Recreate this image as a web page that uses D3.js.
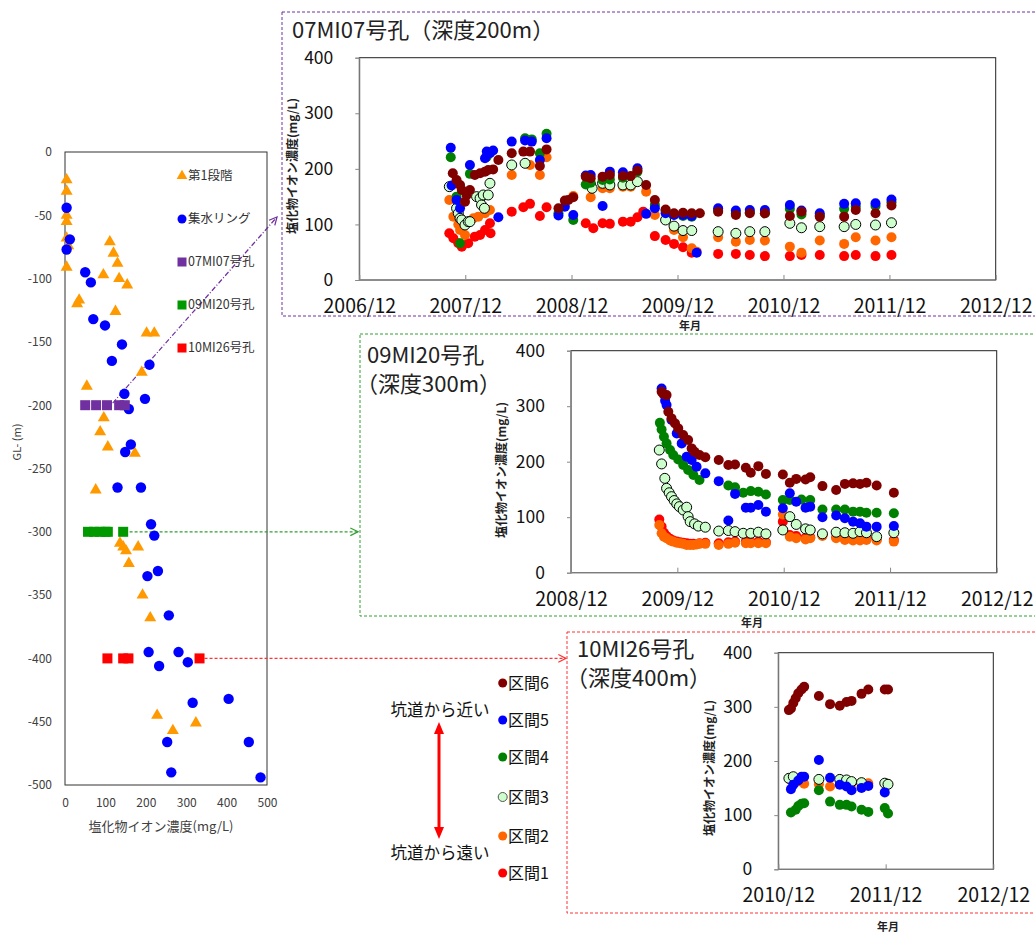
<!DOCTYPE html>
<html lang="ja">
<head>
<meta charset="utf-8">
<title>塩化物イオン濃度の経時変化</title>
<script src="https://cdnjs.cloudflare.com/ajax/libs/d3/7.8.5/d3.min.js"></script>
<style>
    body { margin: 0; background: #fff; }
    text { font-family: "Noto Sans CJK JP", sans-serif; }
</style>
</head>
<body>
<script>
    // ---- left chart: depth profile (value mg/L, depth m) ----
    var leftStage1 = [[4,-22],[4,-31],[4,-50],[4,-55],[4,-68],[8,-74],[4,-91],[111,-71],[120,-80],[130,-88],
        [134,-100],[95,-97],[154,-105],[35,-117],[30,-120],[125,-126],[202,-143],[221,-143],[190,-174],[54,-185],
        [96,-210],[87,-221],[106,-233],[173,-238],[76,-267],[136,-309],[144,-312],[151,-315],[181,-312],[158,-325],
        [192,-350],[211,-368],[228,-445],[324,-451],[267,-457]];
    var leftRing = [[4,-44],[12,-69],[4,-77],[50,-95],[64,-103],[70,-132],[99,-137],[141,-152],[116,-165],[209,-168],
        [147,-191],[198,-195],[158,-203],[163,-231],[149,-237],[130,-265],[188,-265],[213,-294],[221,-303],[204,-335],
        [230,-331],[257,-366],[207,-395],[281,-395],[304,-403],[233,-406],[316,-435],[405,-432],[253,-466],[455,-466],
        [263,-490],[484,-494]];
    var leftBore07 = [[50,-200],[77,-200],[104,-200],[134,-200],[148,-200]];
    var leftBore09 = [[57,-300],[72,-300],[86,-300],[100,-300],[106,-300],[144,-300]];
    var leftBore10 = [[105,-400],[144,-400],[157,-400],[333,-400]];
    var leftLegend = ["第1段階", "集水リング", "07MI07号孔", "09MI20号孔", "10MI26号孔"];

    // ---- 07MI07 (depth 200m) ----
    var mi07Ticks = ["2006/12","2007/12","2008/12","2009/12","2010/12","2011/12","2012/12"];
    var mi07_s1 = [["2007-10-07",84],["2007-10-21",75],["2007-11-07",66],["2007-11-19",60],["2007-12-11",66],["2008-01-03",78],
        ["2008-01-21",81],["2008-02-07",90],["2008-02-24",102],["2008-02-26",84],["2008-05-09",123],["2008-06-18",131],
        ["2008-07-11",137],["2008-08-14",115],["2008-09-06",131],["2009-01-19",102],["2009-02-14",93],["2009-03-18",102],
        ["2009-04-12",101],["2009-05-27",105],["2009-06-23",105],["2009-07-16",113],["2009-08-05",123],["2009-09-14",79],
        ["2009-10-21",72],["2009-11-19",65],["2009-12-20",59],["2010-01-19",49],["2010-04-20",47],["2010-06-20",47],
        ["2010-08-07",45],["2010-09-28",43],["2010-12-23",43],["2011-02-01",45],["2011-04-05",45],["2011-06-28",43],
        ["2011-08-07",45],["2011-10-14",43],["2011-12-08",45]];
    var mi07_s2 = [["2007-10-07",144],["2007-10-21",114],["2007-11-07",100],["2007-11-13",90],["2007-11-30",81],["2007-12-29",111],
        ["2008-01-15",114],["2008-02-07",120],["2008-02-24",126],["2008-05-09",189],["2008-07-11",207],["2008-08-14",189],
        ["2008-09-06",221],["2008-12-07",151],["2009-02-05",149],["2009-03-18",165],["2009-04-12",165],["2009-05-27",168],
        ["2009-06-23",168],["2009-08-15",159],["2009-09-14",117],["2009-11-19",90],["2009-12-20",77],["2010-01-19",57],
        ["2010-02-05",51],["2010-04-20",77],["2010-06-20",69],["2010-08-07",72],["2010-09-28",71],["2010-12-23",60],
        ["2011-02-01",49],["2011-04-05",71],["2011-06-28",65],["2011-08-07",77],["2011-10-14",71],["2011-12-08",77]];
    var mi07_s3 = [["2007-10-07",168],["2007-11-01",129],["2007-11-07",120],["2007-11-13",111],["2007-11-19",108],["2007-11-30",99],
        ["2007-12-11",105],["2007-12-17",105],["2008-01-09",150],["2008-01-21",147],["2008-01-26",135],["2008-02-01",153],
        ["2008-02-05",129],["2008-02-18",153],["2008-02-24",174],["2008-05-09",207],["2008-06-24",210],["2009-02-05",171],
        ["2009-02-10",165],["2009-03-18",174],["2009-04-12",171],["2009-05-27",171],["2009-06-23",171],["2009-07-16",177],
        ["2009-10-21",108],["2009-11-19",97],["2009-12-20",89],["2010-01-19",89],["2010-04-20",87],["2010-06-20",84],
        ["2010-08-07",87],["2010-09-28",87],["2010-12-23",102],["2011-02-01",94],["2011-04-05",96],["2011-06-28",96],
        ["2011-08-07",100],["2011-10-14",99],["2011-12-08",103]];
    var mi07_s4 = [["2007-10-12",221],["2007-11-01",150],["2007-11-13",66],["2007-12-17",191],["2008-02-13",222],["2008-06-24",255],
        ["2008-07-17",253],["2008-08-14",228],["2008-09-06",263],["2008-10-17",120],["2008-12-07",108],["2009-01-19",172],
        ["2009-02-05",175],["2009-03-18",180],["2009-04-12",181],["2009-05-27",184],["2009-07-16",195],["2009-09-14",135],
        ["2009-10-21",125],["2009-11-19",118],["2009-12-20",115],["2010-01-19",114],["2010-04-20",125],["2010-06-20",120],
        ["2010-08-07",122],["2010-09-28",120],["2010-12-23",128],["2011-02-01",118],["2011-04-05",116],["2011-06-28",128],
        ["2011-08-07",132],["2011-10-14",133],["2011-12-08",140]];
    var mi07_s5 = [["2007-10-12",238],["2007-10-15",170],["2007-11-01",144],["2007-11-13",129],["2007-12-17",207],["2008-02-07",219],
        ["2008-02-13",231],["2008-02-24",228],["2008-03-06",233],["2008-03-24",113],["2008-05-09",249],["2008-06-24",251],
        ["2008-07-17",249],["2008-08-14",216],["2008-09-06",255],["2008-10-17",116],["2008-11-08",132],["2008-12-07",117],
        ["2009-01-19",188],["2009-02-05",189],["2009-03-18",133],["2009-04-12",195],["2009-05-27",194],["2009-07-16",201],
        ["2009-08-15",119],["2009-09-14",129],["2009-10-21",120],["2009-11-19",117],["2009-12-20",117],["2010-01-19",115],
        ["2010-02-05",49],["2010-04-20",129],["2010-06-20",125],["2010-08-07",126],["2010-09-28",126],["2010-12-23",135],
        ["2011-02-01",125],["2011-04-05",120],["2011-06-28",137],["2011-08-07",138],["2011-10-14",138],["2011-12-08",145]];
    var mi07_s6 = [["2007-10-19",192],["2007-11-01",180],["2007-11-13",171],["2007-11-19",162],["2007-11-30",141],["2007-12-06",153],
        ["2007-12-17",162],["2008-01-03",189],["2008-01-21",192],["2008-02-07",195],["2008-02-18",198],["2008-03-06",199],
        ["2008-03-24",216],["2008-05-09",228],["2008-06-18",231],["2008-07-11",231],["2008-08-14",205],["2008-09-06",235],
        ["2008-10-17",129],["2008-11-08",143],["2008-11-20",144],["2008-12-07",149],["2009-01-19",186],["2009-02-05",183],
        ["2009-03-18",186],["2009-04-12",189],["2009-05-27",187],["2009-06-23",187],["2009-07-16",197],["2009-08-15",171],
        ["2009-09-14",144],["2009-10-21",127],["2009-11-19",120],["2009-12-20",121],["2010-01-19",120],["2010-02-16",120],
        ["2010-04-20",123],["2010-06-20",117],["2010-08-07",120],["2010-09-28",120],["2010-12-23",115],["2011-02-01",123],
        ["2011-04-05",114],["2011-06-28",114],["2011-08-07",126],["2011-10-14",120],["2011-12-08",134]];

    // ---- 09MI20 (depth 300m) ----
    var mi20Ticks = ["2008/12","2009/12","2010/12","2011/12","2012/12"];
    var mi20_s1 = [["2009-09-30",96],["2009-10-08",83],["2009-10-16",72],["2009-10-25",66],["2009-11-06",61],["2009-11-17",58],
        ["2009-11-29",56],["2009-12-10",55],["2009-12-21",54],["2010-01-02",53],["2010-01-14",52],["2010-01-25",52],
        ["2010-02-15",53],["2010-03-07",54],["2010-04-22",53],["2010-05-25",55],["2010-06-17",56],["2010-07-24",56],
        ["2010-08-10",55],["2010-09-05",56],["2010-10-01",55],["2010-11-28",92],["2010-12-22",68],["2011-01-13",66],
        ["2011-02-14",63],["2011-03-02",64],["2011-04-13",68],["2011-05-30",64],["2011-06-29",61],["2011-07-27",60],
        ["2011-08-20",60],["2011-09-11",61],["2011-10-16",60],["2011-12-14",59]];
    var mi20_s2 = [["2009-09-30",86],["2009-10-08",71],["2009-10-16",65],["2009-10-25",62],["2009-11-06",58],["2009-11-17",56],
        ["2009-11-29",54],["2009-12-10",53],["2009-12-21",52],["2010-01-02",50],["2010-01-14",50],["2010-01-25",50],
        ["2010-02-05",51],["2010-02-15",52],["2010-03-07",52],["2010-04-22",50],["2010-05-25",52],["2010-06-17",54],
        ["2010-07-24",53],["2010-08-10",53],["2010-09-05",53],["2010-10-01",53],["2010-11-28",105],["2010-12-22",65],
        ["2011-01-13",62],["2011-02-14",60],["2011-03-02",62],["2011-04-13",66],["2011-05-30",62],["2011-06-29",59],
        ["2011-07-27",58],["2011-08-20",58],["2011-09-11",59],["2011-10-16",58],["2011-12-14",56]];
    var mi20_s3 = [["2009-09-30",221],["2009-10-08",196],["2009-10-19",170],["2009-10-25",152],["2009-11-03",144],["2009-11-11",137],
        ["2009-11-20",130],["2009-11-29",124],["2009-12-08",119],["2009-12-21",113],["2010-01-02",118],["2010-01-07",101],
        ["2010-01-14",92],["2010-01-29",88],["2010-02-11",84],["2010-03-07",82],["2010-04-22",75],["2010-05-25",76],
        ["2010-06-17",74],["2010-07-15",71],["2010-08-10",71],["2010-09-05",73],["2010-10-01",70],["2010-11-28",77],
        ["2010-12-22",101],["2011-01-13",87],["2011-02-14",79],["2011-03-02",77],["2011-04-13",70],["2011-05-30",73],
        ["2011-06-29",72],["2011-07-27",71],["2011-08-20",74],["2011-09-11",72],["2011-10-16",65],["2011-12-14",72]];
    var mi20_s4 = [["2009-10-02",270],["2009-10-08",258],["2009-10-16",245],["2009-10-25",233],["2009-11-06",221],["2009-11-17",212],
        ["2009-12-04",204],["2009-12-21",194],["2010-01-07",185],["2010-01-25",176],["2010-02-15",167],["2010-05-25",157],
        ["2010-06-17",154],["2010-07-15",144],["2010-08-10",147],["2010-09-05",146],["2010-10-01",141],["2010-11-28",131],
        ["2010-12-22",131],["2011-01-31",132],["2011-03-02",131],["2011-04-13",114],["2011-05-30",114],["2011-06-29",114],
        ["2011-07-27",110],["2011-08-20",110],["2011-09-11",108],["2011-10-16",108],["2011-12-14",107]];
    var mi20_s5 = [["2009-10-08",332],["2009-10-20",310],["2009-10-25",302],["2009-11-11",275],["2009-11-29",251],["2009-12-16",233],
        ["2010-01-02",209],["2010-01-19",203],["2010-02-05",191],["2010-03-07",179],["2010-04-22",165],["2010-05-25",94],
        ["2010-06-17",142],["2010-07-24",117],["2010-08-10",117],["2010-09-05",122],["2010-10-01",110],["2010-11-28",116],
        ["2010-12-22",143],["2011-01-13",128],["2011-02-14",117],["2011-03-02",119],["2011-04-13",100],["2011-05-30",103],
        ["2011-06-29",98],["2011-07-27",92],["2011-08-20",89],["2011-09-11",83],["2011-10-16",83],["2011-12-14",84]];
    var mi20_s6 = [["2009-10-08",326],["2009-10-14",322],["2009-10-25",320],["2009-10-31",290],["2009-11-11",278],["2009-11-23",269],
        ["2009-12-04",260],["2009-12-21",248],["2010-01-07",239],["2010-01-19",224],["2010-01-29",218],["2010-02-15",212],
        ["2010-03-07",208],["2010-04-22",203],["2010-05-25",194],["2010-06-17",195],["2010-07-24",189],["2010-08-10",180],
        ["2010-09-05",192],["2010-10-01",178],["2010-11-28",177],["2010-12-22",162],["2011-01-13",169],["2011-02-14",168],
        ["2011-03-02",172],["2011-04-13",156],["2011-05-30",149],["2011-06-29",160],["2011-07-27",161],["2011-08-20",160],
        ["2011-09-11",162],["2011-10-16",157],["2011-12-14",144]];

    // ---- 10MI26 (depth 400m) ----
    var mi26Ticks = ["2010/12","2011/12","2012/12"];
    var mi26_s1 = [];
    var mi26_s2 = [["2011-01-13",165],["2011-02-07",162],["2011-02-27",158],["2011-04-18",157],["2011-05-26",153],["2011-06-28",163],
        ["2011-07-21",160],["2011-08-07",158],["2011-09-10",160],["2011-10-03",159],["2011-12-09",157]];
    var mi26_s3 = [["2011-01-06",168],["2011-01-21",171],["2011-04-18",166],["2011-06-28",166],["2011-07-21",165],["2011-08-07",162],
        ["2011-09-10",160],["2011-11-28",159],["2011-12-09",157]];
    var mi26_s4 = [["2011-01-13",105],["2011-01-29",110],["2011-02-07",117],["2011-02-18",121],["2011-02-27",122],["2011-04-18",146],
        ["2011-05-26",125],["2011-06-28",119],["2011-07-21",119],["2011-08-07",116],["2011-09-10",110],["2011-10-03",106],
        ["2011-11-28",113],["2011-12-09",103]];
    var mi26_s5 = [["2011-01-13",148],["2011-01-21",156],["2011-02-07",164],["2011-02-18",171],["2011-02-27",171],["2011-04-18",202],
        ["2011-05-26",169],["2011-06-28",156],["2011-07-21",153],["2011-08-07",146],["2011-09-10",150],["2011-10-03",154],
        ["2011-11-28",142]];
    var mi26_s6 = [["2011-01-06",294],["2011-01-13",297],["2011-01-21",307],["2011-01-29",316],["2011-02-07",325],["2011-02-18",332],
        ["2011-02-27",337],["2011-04-18",320],["2011-05-26",305],["2011-06-28",302],["2011-07-21",309],["2011-08-07",311],
        ["2011-09-10",324],["2011-10-03",332],["2011-11-28",332],["2011-12-09",332]];

    var sectionNames = ["区間1", "区間2", "区間3", "区間4", "区間5", "区間6"];
    var sectionColors = ["#ff0000", "#ff6600", "#ccffcc", "#008000", "#0000ff", "#800000"];

    var parseDay = d3.timeParse("%Y-%m-%d");
    var parseMonth = d3.timeParse("%Y/%m");

    var svg = d3.select("body").append("svg")
        .attr("width", 1035)
        .attr("height", 933);
    svg.append("rect").attr("width", 1035).attr("height", 933).attr("fill", "#fff");

    var defs = svg.append("defs");
    [["arrPurple", "#7030a0"], ["arrGreen", "#33a033"], ["arrRed", "#ff3333"]].forEach(function (m) {
        defs.append("marker")
            .attr("id", m[0])
            .attr("viewBox", "0 0 10 10")
            .attr("refX", 9).attr("refY", 5)
            .attr("markerWidth", 8).attr("markerHeight", 8)
            .attr("orient", "auto")
            .append("path")
            .attr("d", "M1,1 L9,5 L1,9")
            .attr("fill", "none")
            .attr("stroke", m[1])
            .attr("stroke-width", 1.3);
    });

    //--- dashed frames round the three panels
    svg.append("rect").attr("x", 282).attr("y", 12).attr("width", 770).attr("height", 304)
        .attr("fill", "none").attr("stroke", "#7030a0").attr("stroke-dasharray", "3,2");
    svg.append("rect").attr("x", 360).attr("y", 334).attr("width", 690).attr("height", 282)
        .attr("fill", "none").attr("stroke", "#33a033").attr("stroke-dasharray", "3,2");
    svg.append("rect").attr("x", 567).attr("y", 632).attr("width", 480).attr("height", 281)
        .attr("fill", "none").attr("stroke", "#ff3333").attr("stroke-dasharray", "3,2");

    //--- left depth profile
    var lx = d3.scaleLinear().domain([0, 500]).range([65, 267]);
    var ly = d3.scaleLinear().domain([0, -500]).range([152, 785]);

    var left = svg.append("g");
    left.append("rect")
        .attr("x", lx(0)).attr("y", ly(0))
        .attr("width", lx(500) - lx(0)).attr("height", ly(-500) - ly(0))
        .attr("fill", "none").attr("stroke", "#333");

    var lya = left.append("g")
        .attr("transform", "translate(" + lx(0) + ",0)")
        .call(d3.axisLeft(ly).tickValues(d3.range(0, -501, -50)).tickSize(0).tickPadding(13)
            .tickFormat(function (d) { return String(d); }));
    lya.select(".domain").remove();
    lya.selectAll("text").attr("font-size", 12).attr("fill", "#404040")
        .attr("font-family", "'Liberation Sans', Arial, sans-serif");

    var lxa = left.append("g")
        .attr("transform", "translate(0," + ly(-500) + ")")
        .call(d3.axisBottom(lx).tickValues(d3.range(0, 501, 100)).tickSize(0).tickPadding(13));
    lxa.select(".domain").remove();
    lxa.selectAll("text").attr("font-size", 12).attr("fill", "#404040")
        .attr("font-family", "'Liberation Sans', Arial, sans-serif");

    left.append("text").attr("transform", "translate(21,442) rotate(-90)")
        .attr("text-anchor", "middle").attr("font-size", 11).attr("fill", "#404040").text("GL- (m)");
    left.append("text").attr("x", 161).attr("y", 831)
        .attr("text-anchor", "middle").attr("font-size", 13).attr("fill", "#404040").text("塩化物イオン濃度(mg/L)");

    // connectors from the borehole marks to the panels
    left.append("line")
        .attr("x1", lx(118)).attr("y1", ly(-200) - 2).attr("x2", 277).attr("y2", 217)
        .attr("stroke", "#7030a0").attr("stroke-width", 1.2).attr("stroke-dasharray", "5,2,1,2")
        .attr("marker-end", "url(#arrPurple)");
    left.append("line")
        .attr("x1", lx(150) + 4).attr("y1", ly(-300)).attr("x2", 358).attr("y2", ly(-300))
        .attr("stroke", "#33a033").attr("stroke-width", 1.2).attr("stroke-dasharray", "3,2")
        .attr("marker-end", "url(#arrGreen)");
    left.append("line")
        .attr("x1", lx(333) + 5).attr("y1", ly(-400)).attr("x2", 566).attr("y2", ly(-400))
        .attr("stroke", "#ff3333").attr("stroke-width", 1.2).attr("stroke-dasharray", "3,2")
        .attr("marker-end", "url(#arrRed)");

    var tri = d3.symbol(d3.symbolTriangle, 62);
    left.append("g").selectAll("path").data(leftStage1).join("path")
        .attr("d", tri)
        .attr("transform", function (d) { return "translate(" + lx(d[0]) + "," + ly(d[1]) + ")"; })
        .attr("fill", "#ff9900");
    left.append("g").selectAll("circle").data(leftRing).join("circle")
        .attr("cx", function (d) { return lx(d[0]); })
        .attr("cy", function (d) { return ly(d[1]); })
        .attr("r", 5.2).attr("fill", "#0000ff");
    [[leftBore07, "#7030a0"], [leftBore09, "#009900"], [leftBore10, "#ff0000"]].forEach(function (b) {
        left.append("g").selectAll("rect").data(b[0]).join("rect")
            .attr("x", function (d) { return lx(d[0]) - 5; })
            .attr("y", function (d) { return ly(d[1]) - 5; })
            .attr("width", 10).attr("height", 10)
            .attr("fill", b[1]);
    });

    // legend inside the depth profile
    var legY = [176, 219, 262, 305, 348];
    var leg = left.append("g");
    leg.append("path").attr("d", d3.symbol(d3.symbolTriangle, 50))
        .attr("transform", "translate(182," + legY[0] + ")").attr("fill", "#ff9900");
    leg.append("circle").attr("cx", 182).attr("cy", legY[1]).attr("r", 4.5).attr("fill", "#0000ff");
    ["#7030a0", "#009900", "#ff0000"].forEach(function (c, i) {
        leg.append("rect").attr("x", 177.5).attr("y", legY[i + 2] - 4.5).attr("width", 9).attr("height", 9).attr("fill", c);
    });
    leg.selectAll("text").data(leftLegend).join("text")
        .attr("x", 188).attr("y", function (d, i) { return legY[i]; })
        .attr("dy", "0.35em").attr("font-size", 12.5).attr("fill", "#333")
        .text(function (d) { return d; });

    //--- time-series panels
    function drawPanel(p) {
        var x = d3.scaleTime()
            .domain([parseMonth(p.ticks[0]), parseMonth(p.ticks[p.ticks.length - 1])])
            .range([p.left, p.right]);
        var y = d3.scaleLinear().domain([0, 400]).range([p.bottom, p.top]);
        var g = svg.append("g");

        g.append("rect")
            .attr("x", p.left).attr("y", p.top)
            .attr("width", p.right - p.left).attr("height", p.bottom - p.top)
            .attr("fill", "none").attr("stroke", "#222");

        var ya = g.append("g")
            .attr("transform", "translate(" + p.left + ",0)")
            .call(d3.axisLeft(y).tickValues([0, 100, 200, 300, 400]).tickSize(4).tickPadding(22));
        ya.select(".domain").attr("stroke", "#888");
        ya.selectAll(".tick line").attr("stroke", "#888");
        ya.selectAll("text").attr("font-size", 17.5).attr("fill", "#111")
            .attr("font-family", "'Liberation Sans', Arial, sans-serif");

        var xa = g.append("g")
            .attr("transform", "translate(0," + p.bottom + ")")
            .call(d3.axisBottom(x).tickValues(p.ticks.map(parseMonth))
                .tickFormat(d3.timeFormat("%Y/%m")).tickSize(-5).tickPadding(19));
        xa.select(".domain").remove();
        xa.selectAll(".tick line").attr("stroke", "#888");
        xa.selectAll("text").attr("font-size", 19.5).attr("fill", "#111");
        g.append("line")
            .attr("x1", p.left).attr("x2", p.right).attr("y1", p.bottom).attr("y2", p.bottom)
            .attr("stroke", "#888");

        p.series.forEach(function (s, i) {
            g.append("g").selectAll("circle").data(s).join("circle")
                .attr("cx", function (d) { return x(parseDay(d[0])); })
                .attr("cy", function (d) { return y(d[1]); })
                .attr("r", 5)
                .attr("fill", sectionColors[i])
                .attr("stroke", i === 2 ? "#000" : "none")
                .attr("stroke-width", 1);
        });

        g.append("text")
            .attr("transform", "translate(" + p.yTitle[0] + "," + p.yTitle[1] + ") rotate(-90)")
            .attr("text-anchor", "middle").attr("dy", "0.35em")
            .attr("font-size", 12).attr("font-weight", "bold").attr("fill", "#222")
            .text("塩化物イオン濃度(mg/L)");
        g.append("text")
            .attr("x", p.xTitle[0]).attr("y", p.xTitle[1])
            .attr("text-anchor", "middle").attr("dy", "0.35em")
            .attr("font-size", 11).attr("font-weight", "bold").attr("fill", "#222")
            .text("年月");
        p.title.forEach(function (t, i) {
            // a leading full-width bracket carries its own left space
            var shift = t.charAt(0) === "（" ? -11 : 0;
            g.append("text")
                .attr("x", p.titlePos[0] + shift).attr("y", p.titlePos[1] + i * 29)
                .attr("font-size", 22).attr("fill", "#222")
                .text(t);
        });
    }

    drawPanel({
        ticks: mi07Ticks, left: 359.3, right: 995.7, top: 57.7, bottom: 280,
        series: [mi07_s1, mi07_s2, mi07_s3, mi07_s4, mi07_s5, mi07_s6],
        title: ["07MI07号孔（深度200m）"], titlePos: [292, 38],
        yTitle: [293, 166], xTitle: [690, 326]
    });
    drawPanel({
        ticks: mi20Ticks, left: 571, right: 996.7, top: 350.7, bottom: 572.7,
        series: [mi20_s1, mi20_s2, mi20_s3, mi20_s4, mi20_s5, mi20_s6],
        title: ["09MI20号孔", "（深度300m）"], titlePos: [367, 363],
        yTitle: [502, 470], xTitle: [752, 623]
    });
    drawPanel({
        ticks: mi26Ticks, left: 778.3, right: 993.3, top: 652.7, bottom: 869.3,
        series: [mi26_s1, mi26_s2, mi26_s3, mi26_s4, mi26_s5, mi26_s6],
        title: ["10MI26号孔", "（深度400m）"], titlePos: [577, 657],
        yTitle: [710, 768], xTitle: [888, 927]
    });

    //--- section legend and the near/far arrow
    var legendYs = [873, 836, 797, 757, 720, 683];
    var sl = svg.append("g");
    sectionNames.forEach(function (name, i) {
        sl.append("circle").attr("cx", 502.7).attr("cy", legendYs[i]).attr("r", 4.5)
            .attr("fill", sectionColors[i])
            .attr("stroke", i === 2 ? "#555" : "none");
        sl.append("text").attr("x", 508).attr("y", legendYs[i]).attr("dy", "0.36em")
            .attr("font-size", 16).attr("fill", "#111").text(name);
    });
    sl.append("text").attr("x", 440).attr("y", 710).attr("dy", "0.36em")
        .attr("text-anchor", "middle").attr("font-size", 16.5).attr("fill", "#111").text("坑道から近い");
    sl.append("text").attr("x", 440).attr("y", 853).attr("dy", "0.36em")
        .attr("text-anchor", "middle").attr("font-size", 16.5).attr("fill", "#111").text("坑道から遠い");
    sl.append("line").attr("x1", 439).attr("x2", 439).attr("y1", 732).attr("y2", 829)
        .attr("stroke", "#ff0000").attr("stroke-width", 3);
    sl.append("path").attr("d", "M439,722 L434,734 L444,734 Z").attr("fill", "#ff0000");
    sl.append("path").attr("d", "M439,839 L434,827 L444,827 Z").attr("fill", "#ff0000");
</script>
</body>
</html>
